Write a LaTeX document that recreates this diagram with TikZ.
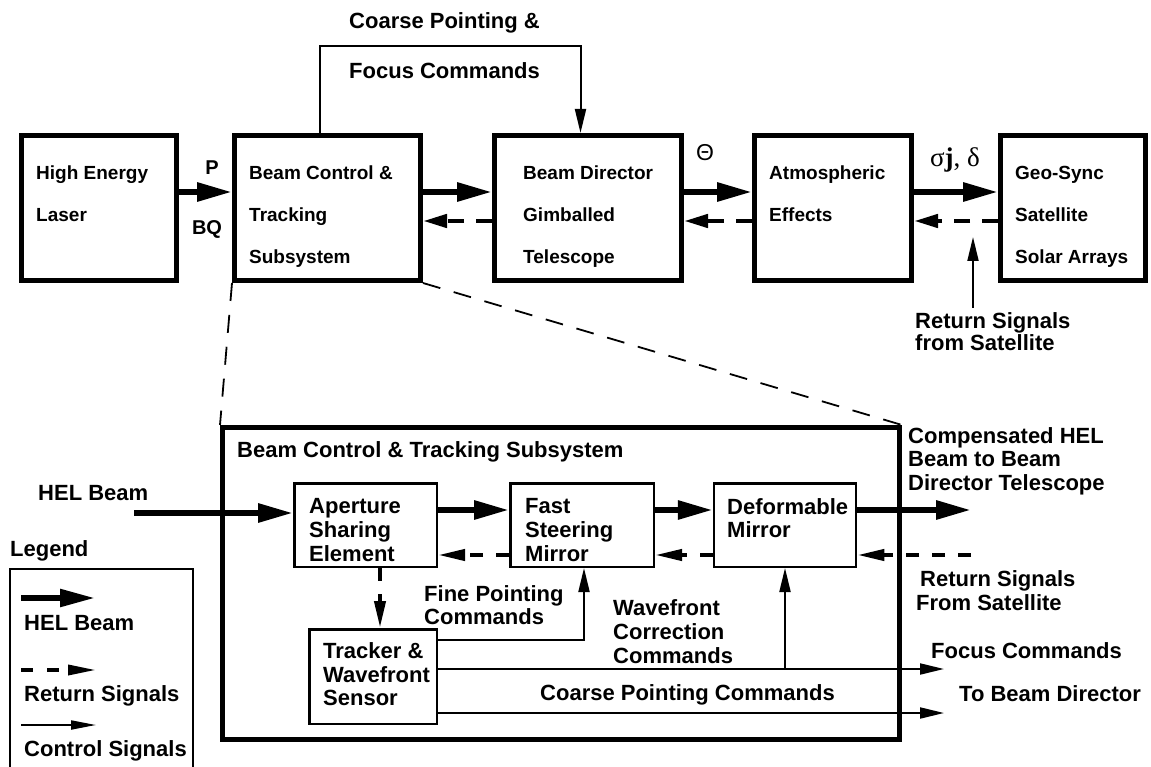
\documentclass[tikz,border=0pt]{standalone}
\usepackage{fontspec}
\setmainfont{Liberation Sans}
\newfontfamily\symserif{Liberation Serif}
\usetikzlibrary{arrows.meta}

\newcommand\lblfont{\fontsize{22pt}{24pt}\selectfont\bfseries}
\newcommand\boxfont{\fontsize{19pt}{21pt}\selectfont\bfseries}

\begin{document}
\begin{tikzpicture}[x=1pt,y=-1pt,
  topbox/.style={draw, line width=5pt, inner sep=0pt, minimum height=145pt},
  subbox/.style={draw, line width=2.5pt, inner sep=0pt},
  txt/.style={anchor=base west, inner sep=0pt, font=\lblfont},
  btxt/.style={anchor=base west, inner sep=0pt, font=\boxfont},
  sym/.style={anchor=base, inner sep=0pt, font=\fontsize{20pt}{22pt}\selectfont\bfseries},
  beam/.style={line width=6pt, -{Triangle[length=35pt,width=18pt]}},
  ret/.style={line width=4.5pt, dash pattern=on 16pt off 12pt, -{Triangle[length=24pt,width=13pt]}},
  retlow/.style={line width=4pt, dash pattern=on 13pt off 13pt, -{Triangle[length=27pt,width=11pt]}},
  ctrl/.style={line width=2pt, -{Triangle[length=24pt,width=11pt]}},
  zoomline/.style={line width=1.8pt, dash pattern=on 18pt off 14pt},
]
\useasboundingbox (0,0) rectangle (1151,767);

% ---------- top level chain ----------
\node[topbox, minimum width=155pt] (hel) at (99,208) {};
\node[topbox, minimum width=186pt] (bct) at (327.5,208) {};
\node[topbox, minimum width=187pt] (bdt) at (588,208) {};
\node[topbox, minimum width=157pt] (atm) at (833,208) {};
\node[topbox, minimum width=145pt] (geo) at (1073,208) {};

\node[btxt] (helA) at (36,180) {High Energy};
\node[btxt] (helB) at (36,222) {Laser};
\node[btxt] (bctA) at (249,180) {Beam Control \&};
\node[btxt] (bctB) at (249,222) {Tracking};
\node[btxt] (bctC) at (249,264) {Subsystem};
\node[btxt] (bdtA) at (523,180) {Beam Director};
\node[btxt] (bdtB) at (523,222) {Gimballed};
\node[btxt] (bdtC) at (523,264) {Telescope};
\node[btxt] (atmA) at (769,180) {Atmospheric};
\node[btxt] (atmB) at (769,222) {Effects};
\node[btxt] (geoA) at (1015,180) {Geo-Sync};
\node[btxt] (geoB) at (1015,222) {Satellite};
\node[btxt] (geoC) at (1015,264) {Solar Arrays};

% beam path and return path
\draw[beam] ([yshift=16pt]hel.east) -- ([yshift=16pt]bct.west);
\draw[beam] ([yshift=16pt]bct.east) -- ([yshift=16pt]bdt.west);
\draw[beam] ([yshift=16pt]bdt.east) -- ([yshift=16pt]atm.west);
\draw[beam] ([yshift=16pt]atm.east) -- ([yshift=16pt]geo.west);
\draw[ret] ([yshift=-13pt]bdt.west) -- ([yshift=-13pt]bct.east);
\draw[ret] ([yshift=-13pt]atm.west) -- ([yshift=-13pt]bdt.east);
\draw[ret] ([yshift=-13pt]geo.west) -- ([yshift=-13pt]atm.east);

\node[sym] (pLbl) at (212,175) {P};
\node[sym] (bqLbl) at (207,235) {BQ};
\node[anchor=base, inner sep=0pt, font=\fontsize{23pt}{25pt}\selectfont] (thLbl) at (705,161) {Θ};
\node[anchor=base, inner sep=0pt, font=\symserif\fontsize{27pt}{29pt}\selectfont] (sdLbl) at (955,167) {σ\textbf{j}, δ};

% coarse pointing / focus loop
\coordinate (cpTop) at (580.5,46);
\draw[ctrl] ([xshift=-7.5pt]bct.north) |- (cpTop) -- ([xshift=-7.5pt]bdt.north);
\node[txt] (cpA) at (349,29) {Coarse Pointing \&};
\node[txt] (cpB) at (349,79) {Focus Commands};

% return signals into the chain
\coordinate (rsFoot) at (973,308);
\coordinate (rsHead) at (973,237);
\draw[ctrl] (rsFoot) -- (rsHead);
\node[txt] (rsA) at (915,328) {Return Signals};
\node[txt] (rsB) at (915,350) {from Satellite};

% ---------- subsystem detail ----------
\node[draw, line width=5pt, inner sep=0pt, minimum width=677pt, minimum height=312pt] (bcs) at (561,583.5) {};
\node[txt] (bcsT) at (237,457) {Beam Control \& Tracking Subsystem};

\draw[zoomline] (bct.south west) -- (bcs.north west);
\draw[zoomline] (bct.south east) -- (bcs.north east);

\node[subbox, minimum width=142.5pt, minimum height=83.5pt] (ase) at (365.5,525) {};
\node[subbox, minimum width=143.5pt, minimum height=83.5pt] (fsm) at (582,525) {};
\node[subbox, minimum width=142pt, minimum height=83.5pt] (dm) at (785,525) {};
\node[subbox, minimum width=127.5pt, minimum height=94.5pt] (trk) at (373,676.5) {};

\node[txt] (aseA) at (309,513) {Aperture};
\node[txt] (aseB) at (309,537) {Sharing};
\node[txt] (aseC) at (309,561) {Element};
\node[txt] (fsmA) at (525,513) {Fast};
\node[txt] (fsmB) at (525,537) {Steering};
\node[txt] (fsmC) at (525,561) {Mirror};
\node[txt] (dmA) at (727,514) {Deformable};
\node[txt] (dmB) at (727,537) {Mirror};
\node[txt] (trkA) at (323,658) {Tracker \&};
\node[txt] (trkB) at (323,682) {Wavefront};
\node[txt] (trkC) at (323,705) {Sensor};

\node[txt] (helIn) at (38,500) {HEL Beam};
\coordinate (helSrc) at (134,513);
\draw[beam] (helSrc) -- ([yshift=12pt]ase.west);
\draw[beam] ([yshift=15pt]ase.east) -- ([yshift=15pt]fsm.west);
\draw[beam] ([yshift=15pt]fsm.east) -- ([yshift=15pt]dm.west);
\coordinate (compOut) at (971,510);
\draw[beam] ([yshift=15pt]dm.east) -- (compOut);

\coordinate (retSrc) at (971,555);
\draw[retlow] (retSrc) -- ([yshift=-30pt]dm.east);
\draw[retlow] ([yshift=-30pt]dm.west) -- ([yshift=-30pt]fsm.east);
\draw[retlow] ([yshift=-30pt]fsm.west) -- ([yshift=-30pt]ase.east);
\draw[retlow] ([xshift=14.5pt]ase.south) -- ([xshift=14.5pt]ase.south |- trk.north);

\draw[ctrl] ([yshift=36.5pt]trk.east) -| ([xshift=2pt]fsm.south);
\coordinate (focOut) at (944,669);
\draw[ctrl] ([yshift=7.5pt]trk.east) -- (focOut);
\coordinate (dmTap) at (785,669);
\draw[ctrl] (dmTap) -- (dm.south);
\coordinate (cpOut) at (944,713);
\draw[ctrl] ([yshift=-36.5pt]trk.east) -- (cpOut);

\node[txt] (fpA) at (424,601) {Fine Pointing};
\node[txt] (fpB) at (424,624) {Commands};
\node[txt] (wcA) at (613,615) {Wavefront};
\node[txt] (wcB) at (613,639) {Correction};
\node[txt] (wcC) at (613,663) {Commands};
\node[txt] (cpcT) at (540,700) {Coarse Pointing Commands};
\node[txt] (chA) at (908,443) {Compensated HEL};
\node[txt] (chB) at (908,466) {Beam to Beam};
\node[txt] (chC) at (908,490) {Director Telescope};
\node[txt] (rfA) at (920,586) {Return Signals};
\node[txt] (rfB) at (916,610) {From Satellite};
\node[txt] (fcT) at (931,658) {Focus Commands};
\node[txt] (tbT) at (959,701) {To Beam Director};

% ---------- legend ----------
\node[txt] (legT) at (10,556) {Legend};
\node[draw, line width=2pt, inner sep=0pt, minimum width=183.5pt, minimum height=200pt] (legBox) at (101.25,669) {};
\coordinate (lgA1) at (21,598);
\coordinate (lgA2) at (95,598);
\draw[line width=5.5pt, -{Triangle[length=35pt,width=17pt]}] (lgA1) -- (lgA2);
\node[txt] (lgT1) at (24,630) {HEL Beam};
\coordinate (lgB1) at (21,670);
\coordinate (lgB2) at (96,670);
\draw[line width=3.5pt, dash pattern=on 12pt off 14pt, -{Triangle[length=28pt,width=10pt]}] (lgB1) -- (lgB2);
\node[txt] (lgT2) at (24,701) {Return Signals};
\coordinate (lgC1) at (21,725);
\coordinate (lgC2) at (96,725);
\draw[ctrl, -{Triangle[length=25pt,width=9pt]}] (lgC1) -- (lgC2);
\node[txt] (lgT3) at (24,756) {Control Signals};
\end{tikzpicture}
\end{document}
